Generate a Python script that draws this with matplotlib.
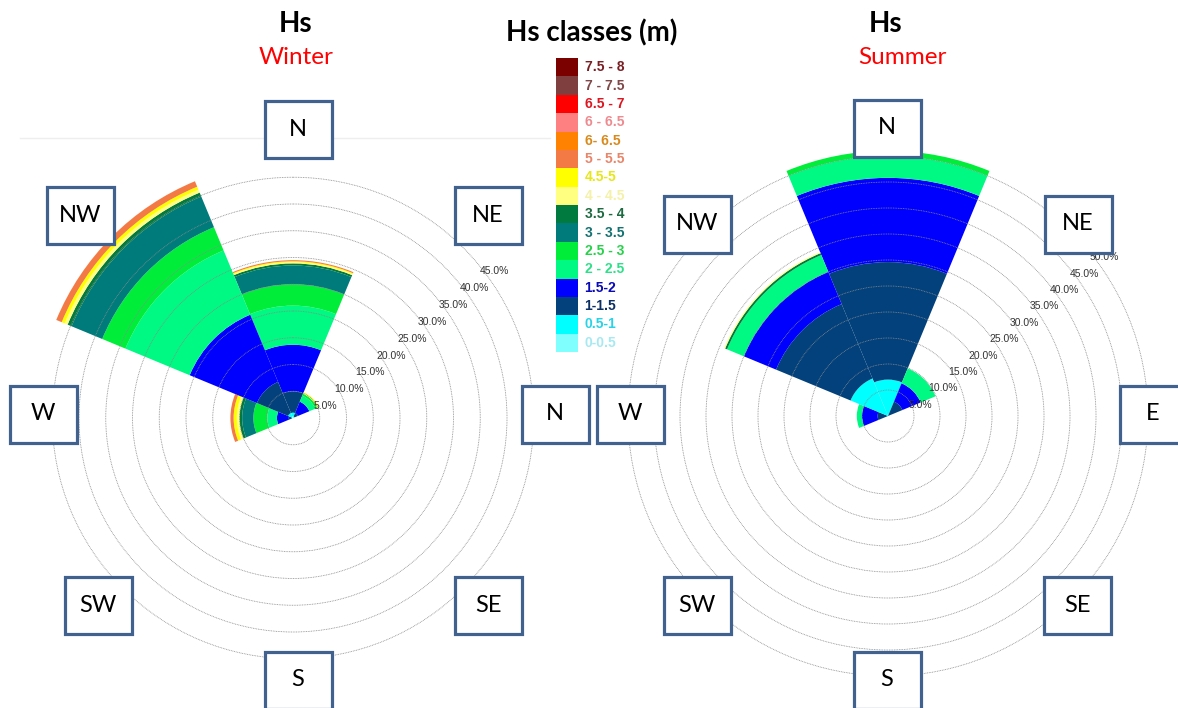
import numpy as np
import matplotlib.pyplot as plt
from matplotlib.patches import Rectangle
from matplotlib.lines import Line2D

W, H = 1178, 708

# Hs classes, lowest first, as written in the key
classes = ['0-0.5', '0.5-1', '1-1.5', '1.5-2', '2 - 2.5', '2.5 - 3', '3 - 3.5', '3.5 - 4',
           '4 - 4.5', '4.5-5', '5 - 5.5', '6- 6.5', '6 - 6.5', '6.5 - 7', '7 - 7.5', '7.5 - 8']
class_colors = ['#80ffff', '#00ffff', '#02417c', '#0000ff', '#00f982', '#00ee3a', '#007b7b', '#007a3e',
                '#ffff80', '#ffff00', '#f47a45', '#ff8200', '#ff8080', '#ff0000', '#7f3f3f', '#7b0000']
label_colors = ['#a6e9f2', '#27d3e6', '#0b2f64', '#0a0ab8', '#2fe08a', '#27d24a', '#137272', '#1d6a40',
                '#f4f1a8', '#e6e61a', '#e8866a', '#d98a1c', '#ee8b90', '#dd1620', '#804848', '#7a1f24']

directions = ['N', 'NE', 'E', 'SE', 'S', 'SW', 'W', 'NW']

# percent of occurrence in each Hs class (lowest class first), per sector
winter_n = [0.3, 0.7, 4.0, 8.7, 7.3, 4.0, 3.5, 0.4, 0.2, 0.2, 0.2]
winter_ne = [0.0, 0.3, 0.7, 2.3, 1.2, 0.4, 0.0, 0.0, 0.1, 0.2]
winter_w = [0.0, 0.2, 0.6, 2.2, 1.8, 2.6, 2.1, 0.5, 0.5, 0.6, 0.6]
winter_nw = [0.3, 0.7, 6.3, 13.6, 13.0, 4.7, 6.2, 0.8, 0.6, 0.6, 1.1]

summer_n = [0.0, 7.0, 22.6, 16.2, 4.2, 1.0]
summer_ne = [0.0, 0.0, 3.0, 3.8, 3.1]
summer_w = [0.0, 0.0, 2.0, 3.0, 1.0]
summer_nw = [0.0, 7.8, 15.5, 6.7, 3.5, 0.0, 0.0, 0.4, 0.2]

winter_ticks = [5, 10, 15, 20, 25, 30, 35, 40, 45]
summer_ticks = [5, 10, 15, 20, 25, 30, 35, 40, 45, 50]

winter_boxes = [('N', 298, 129), ('NE', 488, 215), ('N', 555, 414), ('SE', 488, 605),
                ('S', 298, 680), ('SW', 98, 605), ('W', 43, 414), ('NW', 80, 215)]
summer_boxes = [('N', 887, 128), ('NE', 1078, 224), ('E', 1153, 414), ('SE', 1077, 605),
                ('S', 887, 680), ('SW', 697, 605), ('W', 630, 414), ('NW', 697, 224)]


def px(x, y):
    return x / W, 1 - y / H


def rose(cx, cy, scale, rmax, sectors, ticks):
    # scale: pixels per percent
    R = scale * rmax
    l, b = px(cx - R, cy + R)
    ax = fig.add_axes([l, b, 2 * R / W, 2 * R / H], projection='polar')
    ax.set_theta_zero_location('N')
    ax.set_theta_direction(-1)
    ax.set_facecolor('none')
    ax.spines['polar'].set_visible(False)
    width = np.deg2rad(45)
    for name, vals in sectors.items():
        theta = np.deg2rad(45 * directions.index(name))
        bottom = 0.0
        for i, v in enumerate(vals):
            if v > 0:
                ax.bar(theta, v, width=width, bottom=bottom, color=class_colors[i],
                       edgecolor='none', linewidth=0)
            bottom += v
    ax.set_ylim(0, rmax)
    ax.set_xticks([])
    ax.set_yticks(ticks)
    ax.set_yticklabels([])
    ax.set_axisbelow(False)
    ax.yaxis.grid(True, color='#8a8a8a', lw=0.6, ls=(0, (1, 1)))
    for t in ticks:
        ax.text(np.deg2rad(51), t, f'{t:.1f}%', ha='left', va='top', fontsize=7.5,
                color='#333333', family='Liberation Sans')
    return ax


fig = plt.figure(figsize=(W / 100, H / 100), dpi=100)
fig.add_artist(Line2D([20 / W, 550 / W], [1 - 138 / H] * 2, color='#eeeeee', lw=1))

rose(293, 418, 5.35, 50, {'N': winter_n, 'NE': winter_ne, 'W': winter_w, 'NW': winter_nw},
     winter_ticks)
rose(888, 416, 5.2, 55, {'N': summer_n, 'NE': summer_ne, 'W': summer_w, 'NW': summer_nw},
     summer_ticks)

# direction boxes
for text, x, y in winter_boxes + summer_boxes:
    bw, bh = 67, 57
    fig.add_artist(Rectangle(px(x - bw / 2, y + bh / 2), bw / W, bh / H, transform=fig.transFigure,
                             facecolor='white', edgecolor='#41618f', lw=2.3, zorder=5))
    fig.text(*px(x, y), text, ha='center', va='center', fontsize=17, family='Lato', zorder=6)

# titles
fig.text(*px(296, 24), 'Hs', ha='center', va='center', fontsize=20, weight='bold', family='Lato')
fig.text(*px(296, 58), 'Winter', ha='center', va='center', fontsize=17.5, color='red', family='Lato')
fig.text(*px(886, 24), 'Hs', ha='center', va='center', fontsize=20, weight='bold', family='Lato')
fig.text(*px(902, 58), 'Summer', ha='center', va='center', fontsize=17.5, color='red', family='Lato')
fig.text(*px(592, 33), 'Hs classes (m)', ha='center', va='center', fontsize=20, weight='bold',
         family='Lato')

# colour key
key = fig.add_axes([556 / W, 1 - 352 / H, 90 / W, 294 / H], zorder=3)
n = len(classes)
key.barh(np.arange(n), 1, height=1, left=0, color=class_colors)
for i, (c, lc) in enumerate(zip(classes, label_colors)):
    key.text(1.3, i, c, ha='left', va='center', fontsize=10, weight='bold', color=lc,
             family='Liberation Sans')
key.set_xlim(0, 90 / 22)
key.set_ylim(-0.5, n - 0.5)
key.axis('off')

fig.savefig('out.png', dpi=100)
